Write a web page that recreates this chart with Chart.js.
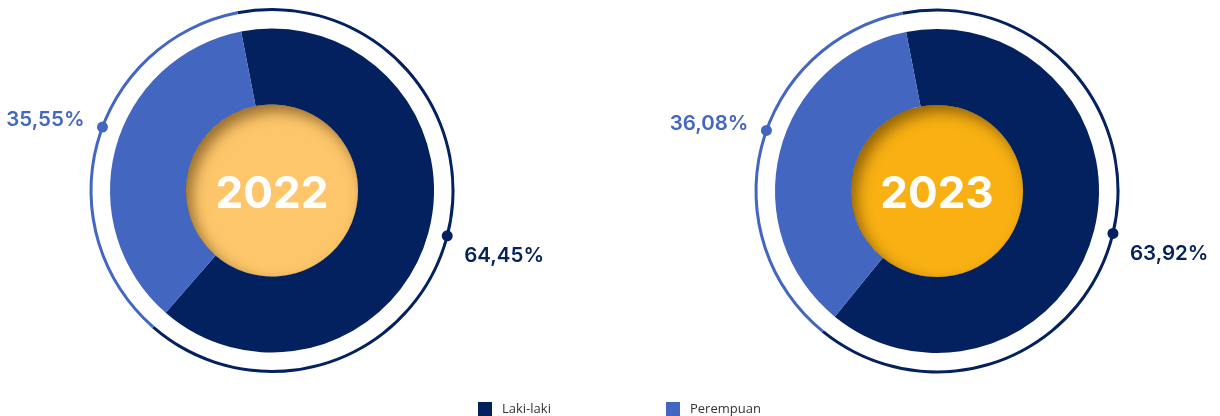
<!DOCTYPE html>
<html lang="id">
<head>
<meta charset="UTF-8">
<title>Laki-laki dan Perempuan 2022 - 2023</title>
<script src="https://cdn.jsdelivr.net/npm/chart.js"></script>
<style>
  body { margin: 0; background: #fff; }
  .wrap { position: relative; width: 1220px; height: 416px; overflow: hidden; }
  .wrap canvas { position: absolute; top: 0; }
  #chart2022 { left: 0; }
  #chart2023 { left: 610px; }
  .legend { position: absolute; top: 402px; font-family: "Open Sans", sans-serif; font-size: 13px; color: #333; }
  .legend span.box { position: absolute; top: 0; width: 14px; height: 14px; }
  .legend span.txt { position: absolute; top: -3px; white-space: nowrap; }
</style>
</head>
<body>
<div class="wrap">
  <canvas id="chart2022" width="610" height="416"></canvas>
  <canvas id="chart2023" width="610" height="416"></canvas>
  <div class="legend" id="legend"></div>
</div>

<script>
// data
const categories = ['Laki-laki', 'Perempuan'];
const years = ['2022', '2023'];
const values2022 = [64.45, 35.55];
const values2023 = [63.92, 36.08];

const navy = '#03205F';
const blue = '#4366C0';
const colors = [navy, blue];
const discColors = ['#FDC66A', '#F8B012'];

// small angle nudge (deg) for the marker dots on the outer ring
const dotNudge = [-0.5, 5.5];
// label offsets from the dot: [dx, dy, align]
const labelPos = [[17, 20, 'left'], [-18, -7, 'right']];

function fmt(v) {
    return v.toFixed(2).replace('.', ',') + '%';
}

const decorPlugin = {
    id: 'decor',
    afterDatasetsDraw(chart, args, opts) {
        const ctx = chart.ctx;

        // dots + percent labels on the thin outer ring
        const ring = chart.getDatasetMeta(0).data;
        const vals = chart.data.datasets[0].data;
        ring.forEach((arc, i) => {
            const mid = (arc.startAngle + arc.endAngle) / 2 + dotNudge[i] * Math.PI / 180;
            const rr = (arc.innerRadius + arc.outerRadius) / 2;
            const x = arc.x + Math.cos(mid) * rr;
            const y = arc.y + Math.sin(mid) * rr;
            ctx.save();
            ctx.beginPath();
            ctx.arc(x, y, 5.5, 0, Math.PI * 2);
            ctx.fillStyle = colors[i];
            ctx.fill();
            ctx.font = '600 20.5px Inter, sans-serif';
            ctx.fillStyle = colors[i];
            ctx.textAlign = labelPos[i][2];
            ctx.textBaseline = 'middle';
            ctx.fillText(fmt(vals[i]), x + labelPos[i][0], y + labelPos[i][1]);
            ctx.restore();
        });

        // yellow centre disc with inner shadow
        const main = chart.getDatasetMeta(2).data[0];
        const cx = main.x, cy = main.y, r = main.innerRadius;
        ctx.save();
        ctx.beginPath();
        ctx.arc(cx, cy, r, 0, Math.PI * 2);
        ctx.fillStyle = opts.color;
        ctx.fill();
        ctx.clip();
        ctx.beginPath();
        ctx.arc(cx, cy, r + 40, 0, Math.PI * 2);
        ctx.arc(cx, cy, r, 0, Math.PI * 2, true);
        ctx.shadowColor = 'rgba(70,40,0,0.55)';
        ctx.shadowBlur = 14;
        ctx.shadowOffsetX = 6;
        ctx.shadowOffsetY = 7;
        ctx.fillStyle = '#000';
        ctx.fill();
        ctx.restore();

        ctx.save();
        ctx.font = 'bold 44px Inter, sans-serif';
        ctx.fillStyle = '#fff';
        ctx.textAlign = 'center';
        ctx.textBaseline = 'middle';
        ctx.fillText(opts.year, cx, cy + 4);
        ctx.restore();
    }
};

function makeChart(id, values, year, discColor, padding) {
    const ctx = document.getElementById(id).getContext('2d');
    return new Chart(ctx, {
        type: 'doughnut',
        data: {
            labels: categories,
            datasets: [
                { data: values, backgroundColor: colors, weight: 3 },
                { data: values, backgroundColor: ['rgba(0,0,0,0)', 'rgba(0,0,0,0)'], weight: 17.5 },
                { data: values, backgroundColor: colors, weight: 76 }
            ]
        },
        options: {
            responsive: false,
            animation: false,
            events: [],
            rotation: -11,
            cutout: 86,
            borderWidth: 0,
            hoverOffset: 0,
            offset: 0,
            layout: { padding: padding },
            plugins: {
                legend: { display: false },
                tooltip: { enabled: false },
                decor: { color: discColor, year: year }
            }
        },
        plugins: [decorPlugin]
    });
}

makeChart('chart2022', values2022, years[0], discColors[0], { left: 89.5, right: 155.5, top: 8, bottom: 43 });
makeChart('chart2023', values2023, years[1], discColors[1], { left: 144.5, right: 100.5, top: 8.5, bottom: 42.5 });

// legend
const legendX = [478, 666];
const legend = document.getElementById('legend');
categories.forEach((c, i) => {
    const box = document.createElement('span');
    box.className = 'box';
    box.style.left = legendX[i] + 'px';
    box.style.background = colors[i];
    const txt = document.createElement('span');
    txt.className = 'txt';
    txt.style.left = (legendX[i] + 24) + 'px';
    txt.textContent = c;
    legend.appendChild(box);
    legend.appendChild(txt);
});
</script>
</body>
</html>
